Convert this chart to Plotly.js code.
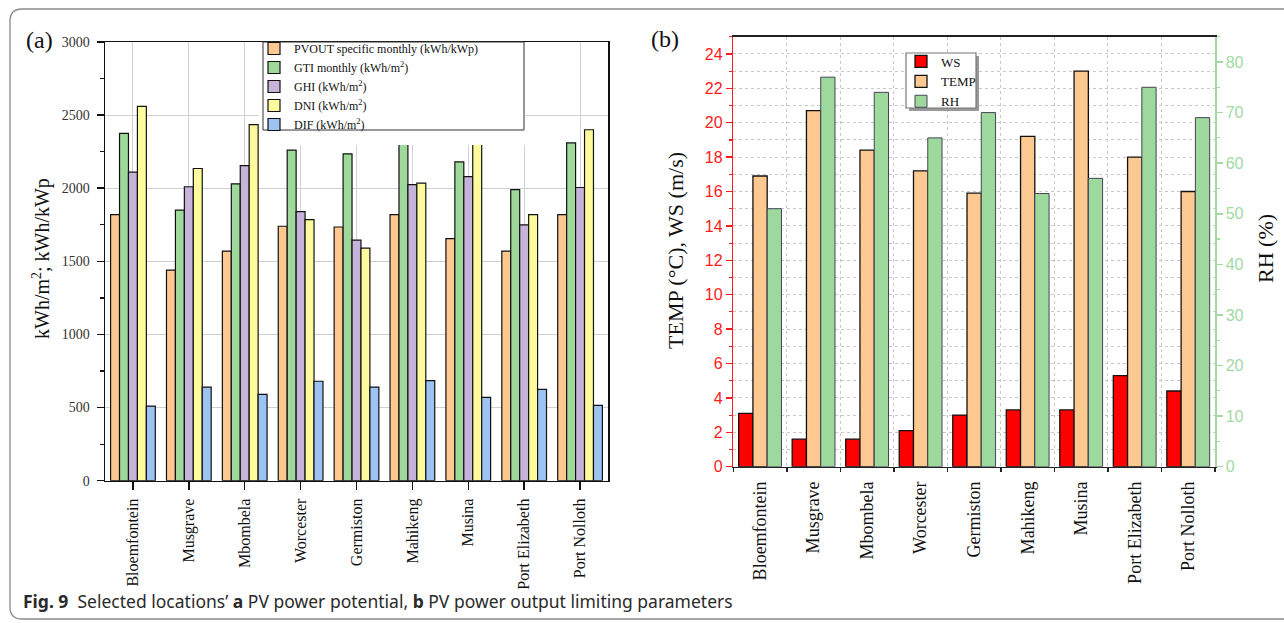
<!DOCTYPE html>
<html>
<head>
<meta charset="utf-8">
<script src="https://cdn.plot.ly/plotly-3.0.1.min.js"></script>
<style>html,body{margin:0;padding:0;background:#fff;}#chart{width:1284px;height:623px;}</style>
</head>
<body>
<div id="chart"></div>
<script>
// ---- data ----
const locations = ['Bloemfontein','Musgrave','Mbombela','Worcester','Germiston','Mahikeng','Musina','Port Elizabeth','Port Nolloth'];
const pvout = [1820, 1440, 1570, 1740, 1735, 1820, 1655, 1570, 1820];
const gti   = [2375, 1850, 2030, 2260, 2235, 2410, 2180, 1990, 2310];
const ghi   = [2110, 2010, 2155, 1840, 1645, 2025, 2080, 1750, 2005];
const dni   = [2560, 2135, 2435, 1785, 1590, 2035, 2410, 1820, 2400];
const dif   = [510, 640, 590, 680, 640, 685, 570, 625, 515];
const ws    = [3.1, 1.6, 1.6, 2.1, 3.0, 3.3, 3.3, 5.3, 4.4];
const temp  = [16.9, 20.7, 18.4, 17.2, 15.9, 19.2, 23.0, 18.0, 16.0];
const rh    = [51, 77, 74, 65, 70, 54, 57, 75, 69];
const seriesA = ['PVOUT specific monthly (kWh/kWp)','GTI monthly (kWh/m<sup>2</sup>)','GHI (kWh/m<sup>2</sup>)','DNI (kWh/m<sup>2</sup>)','DIF (kWh/m<sup>2</sup>)'];
const seriesB = ['WS','TEMP','RH'];

// ---- helpers ----
const W = 1284, H = 623;
const X = p => p / W;
const Y = p => 1 - p / H;
const serif = 'Liberation Serif, Times New Roman, serif';
const sans = 'Liberation Sans, Arial, sans-serif';
const outline = {color: '#111', width: 1.2};

const colA = ['#FFC891', '#9ED89A', '#C5B3DA', '#FFFB9C', '#9DC3F2'];
const valsA = [pvout, gti, ghi, dni, dif];
const traces = valsA.map((v, i) => ({
  type: 'bar', x: locations, y: v, name: seriesA[i],
  xaxis: 'x', yaxis: 'y', legend: 'legend',
  marker: {color: colA[i], line: outline}
}));
traces.push({type:'bar', x: locations, y: ws, name: seriesB[0], xaxis:'x2', yaxis:'y2', legend:'legend2',
  offsetgroup:'1', alignmentgroup:'b', marker:{color:'#FF0000', line:{color:'#111', width:1.3}}});
traces.push({type:'bar', x: locations, y: temp, name: seriesB[1], xaxis:'x2', yaxis:'y2', legend:'legend2',
  offsetgroup:'2', alignmentgroup:'b', marker:{color:'#FDC990', line:{color:'#111', width:1.3}}});
traces.push({type:'bar', x: locations, y: rh, name: seriesB[2], xaxis:'x2', yaxis:'y3', legend:'legend2',
  offsetgroup:'3', alignmentgroup:'b', marker:{color:'#9DD89D', line:{color:'#445', width:1}}});

function rect(x0, y0, x1, y1, o) {
  return Object.assign({type:'rect', xref:'paper', yref:'paper', x0:X(x0), x1:X(x1), y0:Y(y1), y1:Y(y0), layer:'above'}, o);
}
const frame = {
  type:'path', xref:'paper', yref:'paper', layer:'below',
  path: `M ${X(1290)} ${Y(9)} L ${X(22)} ${Y(9)} Q ${X(10)} ${Y(9)} ${X(10)} ${Y(21)} L ${X(10)} ${Y(607)} Q ${X(10)} ${Y(619)} ${X(22)} ${Y(619)} L ${X(1290)} ${Y(619)}`,
  line:{color:'#8a8a8a', width:1.3}
};
function note(x, y, text, font, extra) {
  return Object.assign({xref:'paper', yref:'paper', x:X(x), y:Y(y), xanchor:'center', yanchor:'middle',
    text:text, showarrow:false, font:font}, extra || {});
}

const redC = '#ff1a1a', greenC = '#a3d9a3';
const catRange = [-0.5, 8.5];

const layout = {
  width: W, height: H, margin:{l:0, r:0, t:0, b:0},
  paper_bgcolor:'#fff', plot_bgcolor:'rgba(0,0,0,0)',
  barmode:'group', bargap:0.2, bargroupgap:0,
  showlegend:true,
  xaxis: {domain:[X(105), X(608)], anchor:'y', type:'category', range:catRange,
    showline:true, linecolor:'#111', linewidth:1.5, mirror:true,
    ticks:'outside', ticklen:8, tickwidth:1.5, tickcolor:'#111', tickangle:-90,
    ticklabelstandoff:2,
    tickfont:{family:serif, size:16, color:'#111'},
    showgrid:true, gridcolor:'#d2d2d2', gridwidth:1, zeroline:false, fixedrange:true},
  xaxis3: {overlaying:'x', anchor:'y', type:'linear', range:catRange, tick0:0.5, dtick:1,
    ticks:'outside', ticklen:4, tickwidth:1.5, tickcolor:'#111', showticklabels:false,
    showgrid:false, zeroline:false, showline:false},
  yaxis: {domain:[Y(480.7), Y(42)], anchor:'x', range:[0, 3000], dtick:500,
    ticks:'outside', ticklen:7, tickwidth:1.5, tickcolor:'#111',
    showline:true, linecolor:'#111', linewidth:1.5, mirror:true,
    ticklabelstandoff:4,
    tickfont:{family:serif, size:14, color:'#333'},
    showgrid:true, gridcolor:'#cfcfcf', gridwidth:1, zeroline:false,
    minor:{dtick:250, ticks:'outside', ticklen:4, tickwidth:1.2, tickcolor:'#111', showgrid:false}},

  xaxis2: {domain:[X(733.3), X(1215)], anchor:'y2', type:'category', range:catRange, tickson:'boundaries',
    showline:true, linecolor:'#222', linewidth:1.5, mirror:true,
    ticks:'outside', ticklen:4, tickwidth:1.5, tickcolor:'#222', tickangle:-90,
    ticklabelstandoff:6,
    tickfont:{family:serif, size:18, color:'#111'},
    showgrid:true, griddash:'dot', gridcolor:'#c8c8c8', gridwidth:1, zeroline:false},
  xaxis4: {overlaying:'x2', anchor:'y2', type:'linear', range:catRange, tick0:0, dtick:1,
    ticks:'outside', ticklen:8, tickwidth:1.5, tickcolor:'#222', showticklabels:false,
    showgrid:false, zeroline:false, showline:false},
  xaxis5: {overlaying:'x2', anchor:'y2', side:'top', type:'linear', range:catRange, tick0:0, dtick:1,
    ticks:'inside', ticklen:8, tickwidth:1.5, tickcolor:'#222', showticklabels:false,
    showgrid:false, zeroline:false, showline:false},
  xaxis6: {overlaying:'x2', anchor:'y2', side:'top', type:'linear', range:catRange, tick0:0.5, dtick:1,
    ticks:'inside', ticklen:4, tickwidth:1.5, tickcolor:'#222', showticklabels:false,
    showgrid:false, zeroline:false, showline:false},
  yaxis2: {domain:[Y(466.7), Y(36.7)], anchor:'x2', range:[0, 25], dtick:2,
    ticks:'outside', ticklen:6, tickwidth:1.5, tickcolor:redC,
    showline:true, linecolor:redC, linewidth:1.5,
    tickfont:{family:sans, size:16, color:redC},
    showgrid:true, griddash:'dot', gridcolor:'#c8c8c8', gridwidth:1, zeroline:false,
    minor:{dtick:1, ticks:'outside', ticklen:3, tickwidth:1.2, tickcolor:redC, showgrid:true, griddash:'dot', gridcolor:'#c8c8c8'}},
  yaxis3: {overlaying:'y2', side:'right', anchor:'x2', range:[0, 85], dtick:10,
    ticks:'outside', ticklen:6, tickwidth:1.5, tickcolor:greenC,
    showline:true, linecolor:greenC, linewidth:1.5,
    tickfont:{family:sans, size:16, color:greenC},
    showgrid:false, zeroline:false,
    minor:{dtick:5, ticks:'outside', ticklen:3, tickwidth:1.2, tickcolor:greenC, showgrid:false}},

  legend: {x:X(254), xanchor:'left', y:Y(34), yanchor:'top', bgcolor:'rgba(0,0,0,0)', borderwidth:0,
    font:{family:serif, size:12, color:'#111'}, tracegroupgap:0, itemclick:false, itemdoubleclick:false},
  legend2: {x:X(901), xanchor:'left', y:Y(46.5), yanchor:'top', bgcolor:'rgba(0,0,0,0)', borderwidth:0,
    font:{family:serif, size:13, color:'#111'}, tracegroupgap:0, itemclick:false, itemdoubleclick:false},

  shapes: [
    frame,
    rect(259, 42, 525, 145, {fillcolor:'#fff', line:{width:0}}),
    rect(263, 42, 524, 130, {fillcolor:'rgba(0,0,0,0)', line:{color:'#333', width:1}}),
    rect(909, 56, 979, 111, {fillcolor:'#9a9a9a', line:{width:0}}),
    rect(906, 53, 976, 108, {fillcolor:'#fff', line:{color:'#777', width:1.2}})
  ],
  annotations: [
    note(39, 40, '(a)', {family:serif, size:24, color:'#111'}),
    note(665, 39, '(b)', {family:serif, size:24, color:'#111'}),
    note(41, 258, 'kWh/m<sup>2</sup>; kWh/kWp', {family:serif, size:20, color:'#111'}, {textangle:-90}),
    note(675, 251, 'TEMP (°C), WS (m/s)', {family:serif, size:22, color:'#111'}, {textangle:-90}),
    note(1265, 249, 'RH (%)', {family:serif, size:22, color:'#111'}, {textangle:-90}),
    note(21, 601, '<b>Fig. 9</b>\u00a0\u00a0Selected locations\u2019 <b>a</b> PV power potential, <b>b</b> PV power output limiting parameters',
      {family:'Noto Sans, Open Sans, sans-serif', size:17.5, color:'#2a2a2a'}, {xanchor:'left'})
  ]
};

Plotly.newPlot('chart', traces, layout, {displayModeBar:false, staticPlot:true});
</script>
</body>
</html>
